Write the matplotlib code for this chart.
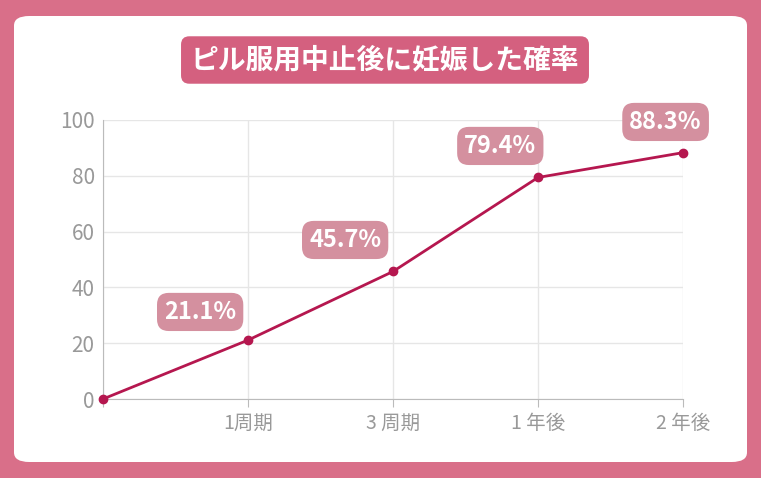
import matplotlib
matplotlib.use("Agg")
import matplotlib.pyplot as plt
from matplotlib.patches import FancyBboxPatch

plt.rcParams['font.family'] = ['Noto Sans CJK JP', 'DejaVu Sans']

x_pos = [0, 1, 2, 3, 4]
values = [0, 21.1, 45.7, 79.4, 88.3]
tick_labels = ["", "1周期", "3 周期", "1 年後", "2 年後"]
label_text = ["21.1%", "45.7%", "79.4%", "88.3%"]
label_pos = [(0.67, 31.2), (1.67, 57), (2.74, 90.7), (3.88, 99.3)]
title = "ピル服用中止後に妊娠した確率"

fig = plt.figure(figsize=(7.61, 4.78), dpi=100)
fig.patch.set_facecolor('#d96f89')
panel = FancyBboxPatch((14/761, 16/478), 733/761, 446/478, boxstyle="round,pad=0,rounding_size=0.02",
                       transform=fig.transFigure, facecolor='white', edgecolor='none', zorder=-10)
fig.patches.append(panel)
fig.text(385/761, 1-60/478, title, ha='center', va='center', color='white', fontsize=20, fontweight='bold',
         bbox=dict(boxstyle='round,pad=0.35,rounding_size=0.3', facecolor='#d4607f', edgecolor='none'))

ax = fig.add_axes([103/761, 1-399/478, 580/761, 279/478])
ax.patch.set_alpha(0)
ax.plot(x_pos, values, color='#b5174f', lw=2, marker='o', ms=6, clip_on=False, zorder=3)
ax.set_xlim(0, 4)
ax.set_ylim(0, 100)
ax.set_yticks(range(0, 101, 20))
ax.set_xticks(x_pos)
ax.set_xticklabels(tick_labels)
ax.grid(color='#e6e6e6', lw=1)
for s in ['top', 'right']:
    ax.spines[s].set_visible(False)
for s in ['left', 'bottom']:
    ax.spines[s].set_color('#bbbbbb')
ax.tick_params(axis='y', length=0, labelsize=15, labelcolor='#999999', pad=6)
ax.tick_params(axis='x', length=6, color='#bbbbbb', labelsize=14, labelcolor='#999999', pad=4)

for t, (lx, ly) in zip(label_text, label_pos):
    ax.text(lx, ly, t, ha='center', va='center', color='white', fontsize=17, fontweight='bold',
            bbox=dict(boxstyle='round,pad=0.3,rounding_size=0.5', facecolor='#d4909f', edgecolor='none'),
            clip_on=False, zorder=4)

fig.savefig('out.png', dpi=100, facecolor=fig.get_facecolor())
